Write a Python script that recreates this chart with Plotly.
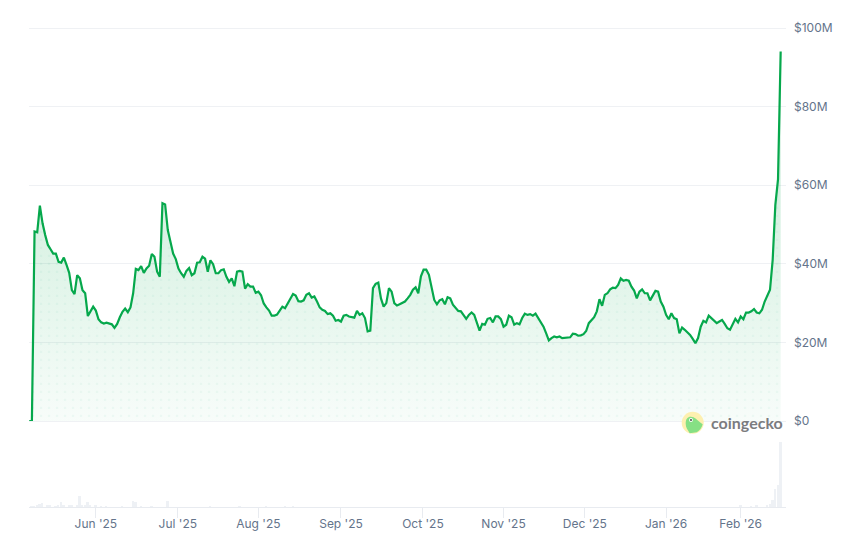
import pandas as pd
import plotly.graph_objects as go

START_DATE = "2025-05-07"

# daily value in $M
tvl_m = [
    0, 0, 48.2, 48, 54.8, 50.3, 47.3, 44.8, 43.7, 42.6, 42.6, 40.5, 40.3, 41.6, 39.7, 37.7, 33.3, 32.3, 37.1, 36.3, 33.3,
    32.5, 26.7, 27.8, 29.1, 28.1, 25.9, 25.1, 24.8, 25, 24.7, 24.6, 23.7, 24.7, 26.4, 27.8, 28.6, 27.7, 28.9, 32.5, 38.7,
    38.4, 39.4, 37.7, 38.8, 39.5, 42.5, 41.8, 38, 36.7, 55.4, 55.1, 48.6, 45.2, 42.6, 41.2, 38.8, 37.6, 36.7, 38.2, 38.9,
    37.1, 37.6, 40.3, 40.4, 41.8, 41.3, 38, 40.9, 39.9, 37.6, 37.6, 38.4, 38.6, 36.7, 35.4, 36.3, 34.3, 38, 38.2, 38,
    33.7, 34.8, 34.2, 34.2, 32.6, 32.9, 32, 29.9, 28.9, 28.1, 26.8, 26.8, 27.1, 28.2, 29.1, 28.7, 29.9, 31.2, 32.3, 31.9,
    30.5, 30.4, 30.7, 32.1, 32.5, 31.4, 31.7, 30.4, 28.9, 28.3, 28, 27.2, 27.4, 26.8, 25.5, 25.7, 25.3, 26.8, 27, 26.6,
    26.4, 26.3, 28, 27, 27.4, 26.2, 22.8, 23, 33.8, 34.9, 35.2, 31.2, 29.1, 30, 33.8, 32.9, 30, 29.4, 29.7, 30,
    30.4, 31.2, 32.1, 33.4, 34, 32.5, 36.8, 38.5, 38.5, 37.2, 34.2, 30.8, 29.7, 30.7, 31, 29.7, 31.5, 31.2, 29.6, 28.7,
    28, 27.9, 27, 26, 27, 27.6, 27, 24.9, 23, 24.7, 24.5, 26, 26.2, 25.1, 26.6, 26.6, 25.9, 24, 24.5, 26.8,
    26.4, 24.5, 24.9, 24.6, 26.2, 27.3, 27, 27.2, 26.8, 27.3, 26.2, 25.1, 24, 22.3, 20.5, 21.1, 21.5, 21.3, 21.5, 21.1,
    21.2, 21.3, 21.3, 22.2, 22.1, 21.7, 21.8, 22.1, 22.9, 24.9, 25.6, 26.4, 27.9, 31, 29.3, 32.1, 32.5, 33.5, 33.9, 33.8,
    34.6, 36.3, 35.7, 35.9, 35.7, 34.2, 33.2, 31.2, 32.9, 33.5, 32.5, 32.5, 30.7, 31.8, 33.1, 32.9, 30.4, 29.1, 27, 25.9,
    27.4, 26.2, 25.9, 22.3, 23.8, 23.2, 22.5, 21.9, 20.9, 19.8, 21.1, 24, 25.5, 25.1, 26.8, 26.2, 25.5, 24.9, 25.3, 25.7,
    24.7, 23.6, 23.2, 24.5, 26, 25.1, 26.6, 25.9, 27.6, 27.6, 27.9, 28.5, 27.6, 27.4, 28.3, 30.4, 32.1, 33.4, 41, 55,
    61.5, 94,
]

# only the days with a visible volume bar
volume_days = [1, 2, 3, 4, 5, 7, 8, 10, 11, 12, 13, 15, 16, 18, 19, 20, 21, 22, 23, 25, 27, 29, 35, 39, 40, 42, 46, 52,
               68, 79, 89, 96, 99, 267, 271, 273, 277, 278, 279, 280, 281, 282]
volume_m = [1, 1, 2, 3, 4, 2, 1.5, 1, 2, 5, 2, 2, 1.5, 1.5, 11, 2, 2, 5, 2, 1.5, 1, 1, 1, 6, 5, 1, 1, 6,
            1, 1, 1, 1, 1, 2, 1, 2, 2, 3, 7, 18, 22, 65]

y_ticks = [0, 20, 40, 60, 80, 100]
y_labels = ["$0", "$20M", "$40M", "$60M", "$80M", "$100M"]
x_ticks = ["2025-06-01", "2025-07-01 18:00", "2025-08-01", "2025-09-01", "2025-10-01 18:00",
           "2025-11-01", "2025-12-01 12:00", "2026-01-01", "2026-01-29"]
x_labels = ["Jun '25", "Jul '25", "Aug '25", "Sep '25", "Oct '25", "Nov '25", "Dec '25", "Jan '26", "Feb '26"]

GREEN = "#06a84c"
GRID = "#eff1f4"
TEXT = "#64748b"
FONT = "Inter"

# plot area in page pixels, paper coords are relative to it
# plotly drops gridlines within a pixel of the edge, so leave headroom above $100M
PLOT_L, PLOT_R, PLOT_T, PLOT_B = 29, 786, 25, 507
PRICE_SPLIT = (PLOT_B - 421) / (PLOT_B - PLOT_T)
PRICE_TOP = 100 * (421 - PLOT_T) / (421 - 28)


def paper_x(px):
    return (px - PLOT_L) / (PLOT_R - PLOT_L)


def paper_y(px):
    return (PLOT_B - px) / (PLOT_B - PLOT_T)


dates = pd.date_range(START_DATE, periods=len(tvl_m), freq="D")
volume_dates = pd.Timestamp(START_DATE) + pd.to_timedelta(volume_days, unit="D")

fig = go.Figure()

# gradient under the line
fig.add_trace(go.Scatter(
    x=dates, y=tvl_m, mode="lines", line=dict(width=0), fill="tozeroy",
    fillgradient=dict(
        type="vertical",
        colorscale=[[0, "rgba(6,168,76,0.03)"], [1, "rgba(6,168,76,0.26)"]],
    ),
    hoverinfo="skip", showlegend=False,
))
# dotted texture on top of the gradient, square grid of dots
fig.add_trace(go.Scatter(
    x=dates, y=tvl_m, mode="lines", line=dict(width=0), fill="tozeroy",
    fillpattern=dict(
        path="M2.7 7a1.3 1.3 0 1 0 2.6 0a1.3 1.3 0 1 0 -2.6 0Z",
        size=8, solidity=1, fgcolor="rgba(0,150,120,0.09)", bgcolor="rgba(0,0,0,0)",
    ),
    hoverinfo="skip", showlegend=False,
))
fig.add_trace(go.Scatter(
    x=dates, y=tvl_m, mode="lines", line=dict(color=GREEN, width=2.2),
    hovertemplate="%{x|%b %d, %Y}<br>$%{y}M<extra></extra>", showlegend=False,
))
fig.add_trace(go.Bar(
    x=volume_dates, y=volume_m, yaxis="y2", marker=dict(color="#eef1f5", line_width=0),
    width=0.7 * 86400000, hovertemplate="%{x|%b %d, %Y}<br>$%{y}M<extra></extra>", showlegend=False,
))

# coingecko logo, drawn in pixels around its anchor
LOGO_X = paper_x(692.7)
LOGO_Y = paper_y(422.7)


def logo_shape(**kw):
    return dict(xref="paper", yref="paper", xsizemode="pixel", ysizemode="pixel",
                xanchor=LOGO_X, yanchor=LOGO_Y, line_width=0, layer="above", **kw)


shapes = [
    logo_shape(type="circle", x0=-11, x1=11, y0=-11, y1=11, fillcolor="#fdf0b0"),
    logo_shape(type="path", fillcolor="#86e084",
               path="M -7 -1 C -7 4 -5 6 -2 6 C 2 6 4 3 10 -1.5 C 9 -5 7 -8 4 -9.5 L -3 -10.5 C -5 -7 -7 -5 -7 -1 Z"),
    logo_shape(type="circle", x0=-3.6, x1=0.2, y0=0.8, y1=4.6, fillcolor="#ffffff"),
    logo_shape(type="circle", x0=-2.6, x1=-0.8, y0=1.8, y1=3.6, fillcolor="#333333"),
]

fig.update_layout(
    width=850,
    height=534,
    margin=dict(l=PLOT_L, r=850 - PLOT_R, t=PLOT_T, b=534 - PLOT_B, pad=0),
    paper_bgcolor="white",
    plot_bgcolor="white",
    font=dict(family=FONT, size=12, color=TEXT),
    bargap=0,
    shapes=shapes,
    annotations=[dict(
        text="<b>coingecko</b>", xref="paper", yref="paper", x=paper_x(746.7), y=paper_y(422.5),
        showarrow=False, font=dict(family="Lato", size=16, color="#7b7c7f"),
        xanchor="center", yanchor="middle",
    )],
    xaxis=dict(
        anchor="y2",
        automargin=False,
        range=["2025-05-06 22:00", "2026-02-15 00:00"],
        tickmode="array",
        tickvals=x_ticks,
        ticktext=x_labels,
        ticks="outside",
        ticklen=10,
        tickcolor="#e8ebf0",
        showgrid=False,
        showline=True,
        linecolor="#e8ebf0",
        zeroline=False,
        ticklabelstandoff=-4,
    ),
    yaxis=dict(
        automargin=False,
        domain=[PRICE_SPLIT, 1],
        range=[0, PRICE_TOP],
        side="right",
        tickmode="array",
        tickvals=y_ticks,
        ticktext=y_labels,
        gridcolor=GRID,
        showline=False,
        zeroline=True,
        zerolinecolor=GRID,
        zerolinewidth=1,
        ticklabelstandoff=7,
    ),
    yaxis2=dict(domain=[0, PRICE_SPLIT], range=[0, 86], visible=False),
)

fig.write_html("out.html", config={"displayModeBar": False}, post_script="document.body.style.margin='0';")
